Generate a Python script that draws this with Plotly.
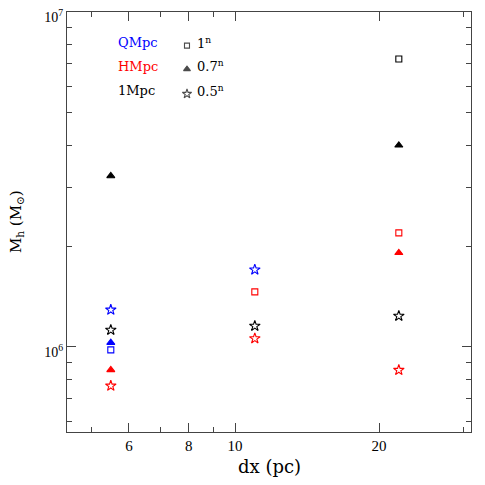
import plotly.graph_objects as go

# dx (pc) of each run
dx_values = [5.5, 11, 22]

# halo masses (Msun) by box size and symbol; None = not shown
qmpc_square = [9.8e5, None, None]
qmpc_triangle = [1.03e6, None, None]
qmpc_star = [1.29e6, 1.70e6, None]

hmpc_square = [None, 1.46e6, 2.19e6]
hmpc_triangle = [8.54e5, None, 1.91e6]
hmpc_star = [7.65e5, 1.06e6, 8.53e5]

mpc1_square = [None, None, 7.24e6]
mpc1_triangle = [3.24e6, None, 4.0e6]
mpc1_star = [1.124e6, 1.155e6, 1.237e6]

box_labels = ["QMpc", "HMpc", "1Mpc"]
box_colors = ["#0000ff", "#ff0000", "#000000"]
symbol_labels = ["1<sup>n</sup>", "0.7<sup>n</sup>", "0.5<sup>n</sup>"]

SERIF = "DejaVu Serif"
TICK_FONT = "Liberation Serif"
AXIS_COLOR = "#444444"

series = [
    (qmpc_square, qmpc_triangle, qmpc_star),
    (hmpc_square, hmpc_triangle, hmpc_star),
    (mpc1_square, mpc1_triangle, mpc1_star),
]
symbols = [
    dict(symbol="square-open", size=6),
    dict(symbol="triangle-up", size=7),
    dict(symbol="star-open", size=8),
]


def marker_style(sym, color):
    return dict(symbol=sym["symbol"], size=sym["size"], color=color, line=dict(color=color, width=1.1))


fig = go.Figure()

for color, group in zip(box_colors, series):
    for sym, values in zip(symbols, group):
        fig.add_trace(
            go.Scatter(
                x=dx_values,
                y=values,
                mode="markers",
                marker=marker_style(sym, color),
                showlegend=False,
            )
        )

# legend markers on an overlay axis running 0..1
legend_y = [0.92, 0.864, 0.805]
fig.add_trace(
    go.Scatter(
        x=[0.297] * 3,
        y=legend_y,
        mode="markers",
        marker=dict(
            symbol=[s["symbol"] for s in symbols],
            size=[5, 6, 7],
            color="black",
            line=dict(color="black", width=1.1),
        ),
        xaxis="x2",
        yaxis="y2",
        showlegend=False,
    )
)

annotations = []
for label, color, y in zip(box_labels, box_colors, [0.927, 0.871, 0.813]):
    annotations.append(
        dict(x=0.121, y=y, xref="paper", yref="paper", text=label, showarrow=False,
             xanchor="left", yanchor="middle", font=dict(family=SERIF, size=13, color=color))
    )
for label, y in zip(symbol_labels, [0.927, 0.871, 0.813]):
    annotations.append(
        dict(x=0.318, y=y, xref="paper", yref="paper", text=label, showarrow=False,
             xanchor="left", yanchor="middle", font=dict(family=SERIF, size=13, color="black"))
    )

# axis titles
annotations.append(
    dict(x=0.5, y=-0.081, xref="paper", yref="paper", text="dx (pc)", showarrow=False,
         xanchor="center", yanchor="middle", font=dict(family=SERIF, size=18, color="black"))
)
annotations.append(
    dict(x=-0.126, y=0.5, xref="paper", yref="paper", text="M<sub>h</sub> (M<sub>⊙</sub>)",
         showarrow=False, textangle=-90, xanchor="center", yanchor="middle",
         font=dict(family=SERIF, size=15, color="black"))
)

axis_common = dict(
    type="log",
    automargin=False,
    ticklabeloverflow="allow",
    showgrid=False,
    zeroline=False,
    showline=True,
    linecolor=AXIS_COLOR,
    linewidth=1.2,
    mirror="allticks",
    ticks="inside",
    ticklen=9,
    tickwidth=1,
    tickcolor=AXIS_COLOR,
    tickfont=dict(family=TICK_FONT, size=15, color="black"),
)

# the page body adds an 8px margin, so the figure is sized to fit inside it
fig.update_layout(
    width=469,
    height=469,
    margin=dict(l=59, r=6, t=4, b=45),
    plot_bgcolor="white",
    paper_bgcolor="white",
    font=dict(family=SERIF, color="black"),
    xaxis=dict(
        axis_common,
        range=[0.6488, 1.4933],
        tickmode="array",
        tickvals=[6, 8, 10, 20],
        ticktext=["6", "8", "10", "20"],
        minor=dict(tickmode="array", tickvals=[5, 7, 9, 30], ticks="inside", ticklen=5,
                   tickcolor=AXIS_COLOR, showgrid=False),
    ),
    yaxis=dict(
        axis_common,
        range=[5.746, 7.0],
        tickmode="array",
        tickvals=[1e6, 1e7],
        ticktext=["10<sup>6</sup>", "10<sup>7</sup>"],
        tickfont=dict(family=TICK_FONT, size=14, color="black"),
        ticklabelshift=5,
        minor=dict(tickmode="array",
                   tickvals=[6e5, 7e5, 8e5, 9e5, 2e6, 3e6, 4e6, 5e6, 6e6, 7e6, 8e6, 9e6],
                   ticks="inside", ticklen=5, tickcolor=AXIS_COLOR, showgrid=False),
    ),
    xaxis2=dict(overlaying="x", range=[0, 1], visible=False),
    yaxis2=dict(overlaying="y", range=[0, 1], visible=False),
    annotations=annotations,
)

fig.write_html("out.html")
